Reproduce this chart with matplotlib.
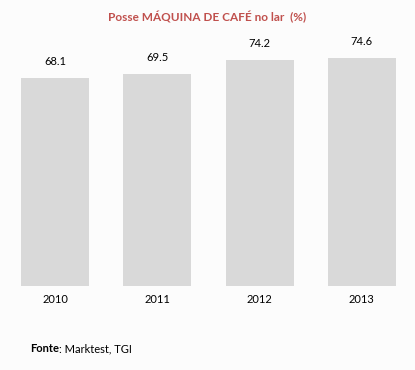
import matplotlib
matplotlib.use('Agg')
from matplotlib import pyplot as plt

years = ['2010', '2011', '2012', '2013']
values = [68.1, 69.5, 74.2, 74.6]

plt.rcParams['font.family'] = ['Lato', 'DejaVu Sans']

fig = plt.figure(figsize=(4.15, 3.7), dpi=100)
fig.patch.set_facecolor('#fcfcfc')
ax = fig.add_axes([4 / 415, 84 / 370, 409 / 415, 244 / 370])
ax.set_facecolor('#fcfcfc')

x = range(len(years))
ax.bar(x, values, width=0.665, color='#d9d9d9')
for i, v in zip(x, values):
    ax.annotate('%.1f' % v, (i, v), xytext=(0, 8), textcoords='offset points',
                ha='center', va='bottom', fontsize=8, color='black')

ax.set_xlim(-0.5, 3.5)
ax.set_ylim(0, 80)
ax.set_xticks(list(x))
ax.set_xticklabels(years, fontsize=8)
ax.tick_params(axis='x', length=0, pad=6)
ax.set_yticks([])
for s in ax.spines.values():
    s.set_visible(False)

fig.text(0.5, 1 - 17 / 370, 'Posse MÁQUINA DE CAFÉ no lar  (%)', ha='center', va='center',
         fontsize=8.5, fontweight='bold', color='#c0504d')

# source line: bold "Fonte" followed directly by the normal text
t = fig.text(30 / 415, 1 - 352 / 370, 'Fonte', fontsize=8, fontweight='bold', va='baseline')
fig.canvas.draw()
bb = t.get_window_extent()
fig.text(bb.x1 / fig.bbox.width, 1 - 352 / 370, ': Marktest, TGI', fontsize=8, va='baseline')

fig.savefig('out.png', dpi=100, facecolor=fig.get_facecolor())
